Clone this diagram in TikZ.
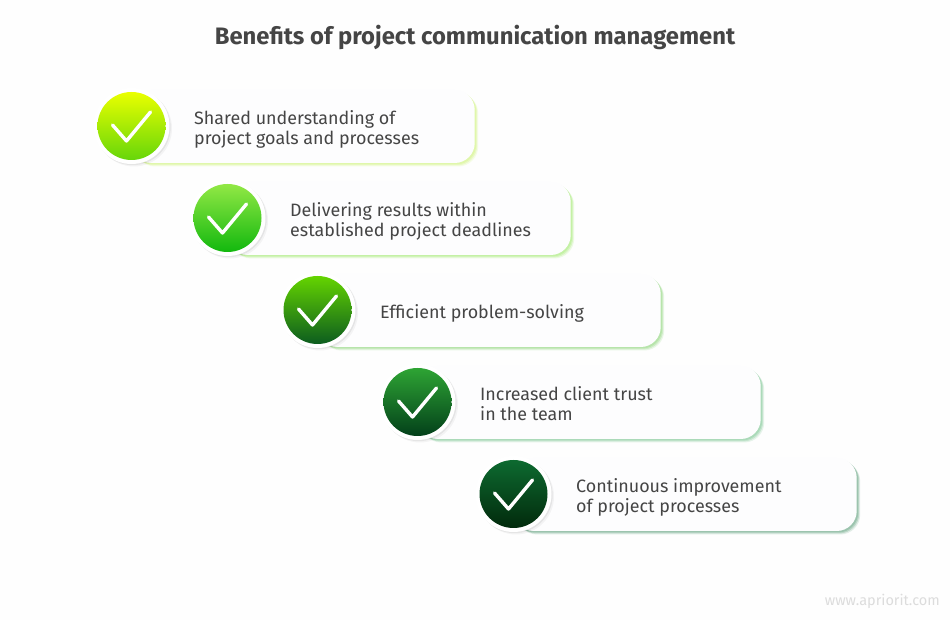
\documentclass[tikz,border=0pt]{standalone}
\usepackage{fontspec}
\setmainfont{Fira Sans}
\usepackage{tikz}
\usetikzlibrary{shadows}
\definecolor{inktext}{HTML}{454545}
\definecolor{marktext}{HTML}{DCDCDC}
\definecolor{pagecol}{HTML}{FEFEFE}
\definecolor{cardcol}{HTML}{FDFDFE}
\definecolor{topA}{HTML}{EAFF00}\definecolor{botA}{HTML}{66D60A}\definecolor{rimA}{HTML}{DDF7A0}
\definecolor{topB}{HTML}{92E845}\definecolor{botB}{HTML}{12B80E}\definecolor{rimB}{HTML}{BDF09A}
\definecolor{topC}{HTML}{64D400}\definecolor{botC}{HTML}{0C5C1F}\definecolor{rimC}{HTML}{AEE2A0}
\definecolor{topD}{HTML}{2EA434}\definecolor{botD}{HTML}{03401A}\definecolor{rimD}{HTML}{A0D6B0}
\definecolor{topE}{HTML}{0D6A30}\definecolor{botE}{HTML}{022A0C}\definecolor{rimE}{HTML}{8FBDA4}
\tikzset{
  cardbox/.style={fill=cardcol, rounded corners=20pt, minimum height=73pt, inner sep=0pt,
    general shadow={fill=#1, opacity=0.25, shadow xshift=3.5pt, shadow yshift=-3.5pt},
    general shadow={fill=#1, opacity=0.45, shadow xshift=2.5pt, shadow yshift=-2.5pt},
    general shadow={fill=#1, opacity=0.70, shadow xshift=1.5pt, shadow yshift=-1.5pt}},
  ringbox/.style={circle, fill=white, minimum size=76pt, inner sep=0pt,
    general shadow={fill=black, opacity=0.04, shadow xshift=2.5pt, shadow yshift=-2.5pt},
    general shadow={fill=black, opacity=0.06, shadow xshift=1.2pt, shadow yshift=-1.2pt}},
  ballbox/.style={circle, minimum size=68pt, inner sep=0pt},
  tickline/.style={draw=white, line width=3.4pt, line cap=round, line join=round},
  labeltext/.style={anchor=west, align=left, inner sep=0pt, text=inktext, font=\fontsize{17.9}{20}\selectfont}
}
\begin{document}
\begin{tikzpicture}[x=1pt,y=1pt]
  \useasboundingbox (0,0) rectangle (950,620);
  \fill[pagecol] (0,0) rectangle (950,620);
  \node[inner sep=0pt, text=inktext, font=\fontsize{23.8}{26}\selectfont\bfseries] (title) at (475,582) {Benefits of project communication management};
  \foreach \n/\cx/\cy/\cardw/\txtx/\tone/\txt in {
    1/131.5/494/343/194/A/{Shared understanding of\\project goals and processes},
    2/227.5/402/343/290/B/{Delivering results within\\established project deadlines},
    3/317.5/310/343/380/C/{Efficient problem-solving},
    4/417.5/218/343/480/D/{Increased client trust\\in the team},
    5/513.5/126/343/576/E/{Continuous improvement\\of project processes}} {
    \node[cardbox=rim\tone, minimum width=\cardw pt, anchor=west] (card\n) at (\cx,\cy-0.5) {};
    \node[ringbox] (ring\n) at (\cx,\cy) {};
    \node[ballbox, top color=top\tone, bottom color=bot\tone] (ball\n) at (\cx,\cy) {};
    \draw[tickline] ([shift={(-19,1)}]ball\n.center) -- ([shift={(-5,-15)}]ball\n.center) -- ([shift={(19,14)}]ball\n.center);
    \node[labeltext] (label\n) at (\txtx,\cy-4.5) {\strut\txt\strut};
  }
  \node[anchor=east, inner sep=0pt, text=marktext, font=\fontsize{14.5}{16}\selectfont] (mark) at (940,19) {www.apriorit.com};
\end{tikzpicture}
\end{document}
